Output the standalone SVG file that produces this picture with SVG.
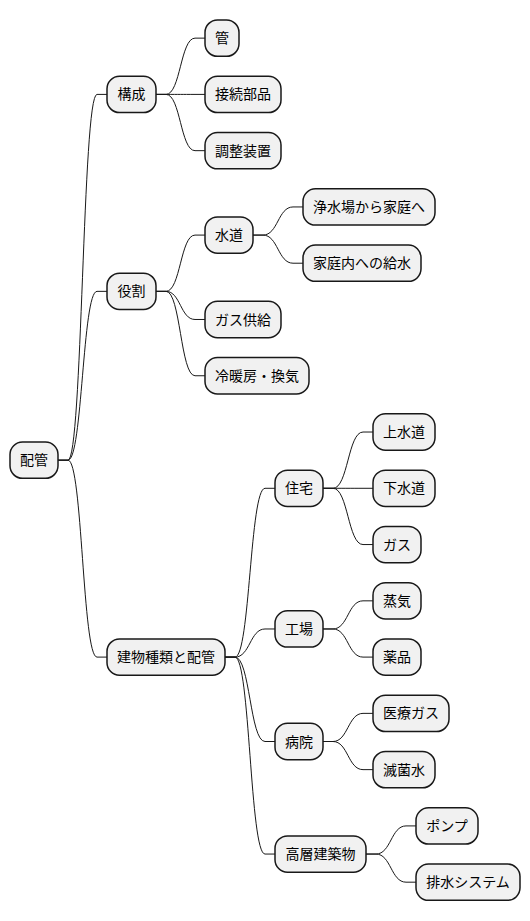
<svg xmlns="http://www.w3.org/2000/svg" width="530" height="921" viewBox="0 0 530 921">
<style>
.n rect{fill:#F1F1F1;stroke:#181818;stroke-width:1.5}
.n text{font-family:"Noto Sans CJK JP","Noto Sans",sans-serif;font-size:14px;fill:#000;text-anchor:middle}
#edges path{fill:none;stroke:#181818;stroke-width:1}
</style>
<rect width="530" height="921" fill="#FFFFFF"/>
<g id="edges">
<path d="M58,460.16 L68,460.16 C82.5,460.16 82.5,94.4 97,94.4 L107,94.4"/>
<path d="M58,460.16 L68,460.16 C82.5,460.16 82.5,291.35 97,291.35 L107,291.35"/>
<path d="M58,460.16 L68,460.16 C82.5,460.16 82.5,657.1 97,657.1 L107,657.1"/>
<path d="M156,94.4 L166,94.4 C180.5,94.4 180.5,38.13 195,38.13 L205,38.13"/>
<path d="M156,94.4 L166,94.4 C180.5,94.4 180.5,94.4 195,94.4 L205,94.4"/>
<path d="M156,94.4 L166,94.4 C180.5,94.4 180.5,150.67 195,150.67 L205,150.67"/>
<path d="M156,291.35 L166,291.35 C180.5,291.35 180.5,235.08 195,235.08 L205,235.08"/>
<path d="M156,291.35 L166,291.35 C180.5,291.35 180.5,319.48 195,319.48 L205,319.48"/>
<path d="M156,291.35 L166,291.35 C180.5,291.35 180.5,375.75 195,375.75 L205,375.75"/>
<path d="M253,235.08 L263,235.08 C278,235.08 278,206.94 293,206.94 L303,206.94"/>
<path d="M253,235.08 L263,235.08 C278,235.08 278,263.21 293,263.21 L303,263.21"/>
<path d="M225,657.1 L235,657.1 C250,657.1 250,488.29 265,488.29 L275,488.29"/>
<path d="M225,657.1 L235,657.1 C250,657.1 250,628.97 265,628.97 L275,628.97"/>
<path d="M225,657.1 L235,657.1 C250,657.1 250,741.5 265,741.5 L275,741.5"/>
<path d="M225,657.1 L235,657.1 C250,657.1 250,854.05 265,854.05 L275,854.05"/>
<path d="M323,488.29 L333,488.29 C348,488.29 348,432.02 363,432.02 L373,432.02"/>
<path d="M323,488.29 L333,488.29 C348,488.29 348,488.29 363,488.29 L373,488.29"/>
<path d="M323,488.29 L333,488.29 C348,488.29 348,544.56 363,544.56 L373,544.56"/>
<path d="M323,628.97 L333,628.97 C348,628.97 348,600.83 363,600.83 L373,600.83"/>
<path d="M323,628.97 L333,628.97 C348,628.97 348,657.1 363,657.1 L373,657.1"/>
<path d="M323,741.5 L333,741.5 C348,741.5 348,713.37 363,713.37 L373,713.37"/>
<path d="M323,741.5 L333,741.5 C348,741.5 348,769.64 363,769.64 L373,769.64"/>
<path d="M366,854.05 L376,854.05 C391,854.05 391,825.91 406,825.91 L416,825.91"/>
<path d="M366,854.05 L376,854.05 C391,854.05 391,882.18 406,882.18 L416,882.18"/>
</g>
<g id="n-root" class="n"><rect x="10" y="442.01" width="48" height="36.3" rx="12.5"/><text x="34" y="465.2">配管</text></g>
<g id="n-kousei" class="n"><rect x="107" y="76.25" width="49" height="36.3" rx="12.5"/><text x="131.5" y="99.4">構成</text></g>
<g id="n-kan" class="n"><rect x="205" y="19.98" width="34" height="36.3" rx="12.5"/><text x="222" y="43.1">管</text></g>
<g id="n-setsuzoku" class="n"><rect x="205" y="76.25" width="76" height="36.3" rx="12.5"/><text x="243" y="99.4">接続部品</text></g>
<g id="n-chousei" class="n"><rect x="205" y="132.52" width="76" height="36.3" rx="12.5"/><text x="243" y="155.7">調整装置</text></g>
<g id="n-yakuwari" class="n"><rect x="107" y="273.2" width="49" height="36.3" rx="12.5"/><text x="131.5" y="296.4">役割</text></g>
<g id="n-suidou" class="n"><rect x="205" y="216.93" width="48" height="36.3" rx="12.5"/><text x="229" y="240.1">水道</text></g>
<g id="n-jousui" class="n"><rect x="303" y="188.79" width="132" height="36.3" rx="12.5"/><text x="369" y="211.9">浄水場から家庭へ</text></g>
<g id="n-kyusui" class="n"><rect x="303" y="245.06" width="118" height="36.3" rx="12.5"/><text x="362" y="268.2">家庭内への給水</text></g>
<g id="n-gaskyou" class="n"><rect x="205" y="301.33" width="76" height="36.3" rx="12.5"/><text x="243" y="324.5">ガス供給</text></g>
<g id="n-reidan" class="n"><rect x="205" y="357.6" width="104" height="36.3" rx="12.5"/><text x="257" y="380.8">冷暖房・換気</text></g>
<g id="n-tatemono" class="n"><rect x="107" y="638.95" width="118" height="36.3" rx="12.5"/><text x="166" y="662.1">建物種類と配管</text></g>
<g id="n-juutaku" class="n"><rect x="275" y="470.14" width="48" height="36.3" rx="12.5"/><text x="299" y="493.3">住宅</text></g>
<g id="n-jousuidou" class="n"><rect x="373" y="413.87" width="62" height="36.3" rx="12.5"/><text x="404" y="437">上水道</text></g>
<g id="n-gesuidou" class="n"><rect x="373" y="470.14" width="62" height="36.3" rx="12.5"/><text x="404" y="493.3">下水道</text></g>
<g id="n-gas" class="n"><rect x="373" y="526.41" width="48" height="36.3" rx="12.5"/><text x="397" y="549.6">ガス</text></g>
<g id="n-koujou" class="n"><rect x="275" y="610.82" width="48" height="36.3" rx="12.5"/><text x="299" y="634">工場</text></g>
<g id="n-jouki" class="n"><rect x="373" y="582.68" width="48" height="36.3" rx="12.5"/><text x="397" y="605.8">蒸気</text></g>
<g id="n-yakuhin" class="n"><rect x="373" y="638.95" width="48" height="36.3" rx="12.5"/><text x="397" y="662.1">薬品</text></g>
<g id="n-byouin" class="n"><rect x="275" y="723.35" width="48" height="36.3" rx="12.5"/><text x="299" y="746.5">病院</text></g>
<g id="n-iryou" class="n"><rect x="373" y="695.22" width="76" height="36.3" rx="12.5"/><text x="411" y="718.4">医療ガス</text></g>
<g id="n-mekkin" class="n"><rect x="373" y="751.49" width="62" height="36.3" rx="12.5"/><text x="404" y="774.6">滅菌水</text></g>
<g id="n-kousou" class="n"><rect x="275" y="835.9" width="91" height="36.3" rx="12.5"/><text x="320.5" y="859.1">高層建築物</text></g>
<g id="n-pump" class="n"><rect x="416" y="807.76" width="62" height="36.3" rx="12.5"/><text x="447" y="830.9">ポンプ</text></g>
<g id="n-haisui" class="n"><rect x="416" y="864.03" width="104" height="36.3" rx="12.5"/><text x="468" y="887.2">排水システム</text></g>
</svg>
